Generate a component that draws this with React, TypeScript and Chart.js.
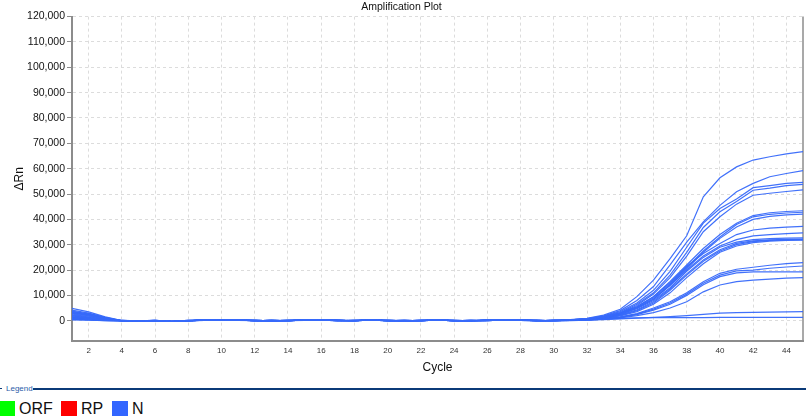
import React, { useEffect, useRef } from "react";
import { Chart, registerables } from "chart.js";

Chart.register(...registerables);

const FONT = '"Liberation Sans", Arial, sans-serif';

const cycles = [
  1, 2, 3, 4, 5, 6, 7, 8, 9, 10, 11, 12, 13, 14, 15, 16, 17, 18, 19, 20, 21, 22, 23,
  24, 25, 26, 27, 28, 29, 30, 31, 32, 33, 34, 35, 36, 37, 38, 39, 40, 41, 42, 43, 44, 45,
];

const xTickValues = [2, 4, 6, 8, 10, 12, 14, 16, 18, 20, 22, 24, 26, 28, 30, 32, 34, 36, 38, 40, 42, 44];
const yTickValues = [0, 10000, 20000, 30000, 40000, 50000, 60000, 70000, 80000, 90000, 100000, 110000, 120000];

const well01 = [
  1500, 1000, 400, 0, -100, 0, -300, 0, 200, 100,
  300, 0, 0, 0, 200, 300, 100, 0, 300, 0,
  0, 0, 300, 0, 0, 100, 300, 200, 0, 100,
  400, 900, 2200, 4500, 9500, 16000, 24500, 33500, 48900, 56400,
  60700, 63400, 64700, 65800, 66700,
];
const well02 = [
  4900, 3500, 1500, 100, 0, -100, -200, 100, 300, 200,
  200, 100, 0, 100, 300, 200, 0, 100, 200, 0,
  100, 0, 200, 100, 0, 200, 200, 300, 100, 0,
  300, 800, 1900, 4000, 8000, 13500, 22000, 31000, 39000, 45500,
  50900, 54200, 56800, 58100, 59200,
];
const well03 = [
  3500, 2800, 1200, 0, -200, 0, -300, -100, 200, 300,
  100, 0, 100, 0, 300, 300, 0, 0, 200, 100,
  0, 100, 200, 0, 100, 0, 300, 100, 0, 200,
  300, 700, 1700, 3600, 7000, 12000, 19500, 29000, 38500, 44300,
  48000, 52500, 53300, 54200, 54600,
];
const well04 = [
  2200, 1800, 700, 100, 0, 0, -200, 0, 300, 100,
  200, 100, 0, 0, 200, 400, 100, 0, 300, 0,
  0, 0, 400, 100, 0, 100, 200, 200, 0, 0,
  200, 600, 1500, 3200, 6500, 11000, 18000, 27000, 36800, 43000,
  47000, 51500, 52300, 53300, 53800,
];
const well05 = [
  900, 600, 200, 0, -100, 100, -300, 0, 100, 200,
  300, 0, 100, 0, 100, 300, 200, 0, 200, 100,
  0, 0, 200, 0, 100, 100, 300, 100, 100, 0,
  200, 600, 1400, 3000, 6000, 10500, 17000, 25500, 35100, 41000,
  46000, 49500, 50300, 51000, 51600,
];
const well06 = [
  3000, 2500, 1000, 0, 0, 0, -200, 0, 200, 200,
  300, 100, 0, 0, 300, 200, 0, 100, 300, 0,
  0, 100, 300, 0, 0, 200, 200, 300, 0, 100,
  300, 700, 1500, 3000, 5500, 9500, 15500, 22000, 28500, 34000,
  38500, 41500, 42600, 43100, 43400,
];
const well07 = [
  300, 200, 0, -100, -100, 0, -300, 0, 200, 100,
  200, 0, 0, 100, 200, 300, 100, 0, 200, 0,
  100, 0, 300, 0, 0, 100, 300, 200, 100, 0,
  200, 600, 1300, 2800, 5200, 9000, 14500, 21000, 27500, 33000,
  38000, 41000, 42000, 42500, 42800,
];
const well08 = [
  2600, 2000, 800, 0, -100, 0, -200, 100, 300, 100,
  300, 0, 100, 0, 200, 200, 100, 0, 300, 100,
  0, 0, 200, 100, 0, 100, 200, 200, 0, 100,
  200, 500, 1200, 2600, 5000, 8500, 14000, 20500, 27000, 32500,
  37000, 40000, 41200, 41800, 42100,
];
const well09 = [
  1200, 900, 300, 0, 0, 100, -300, 0, 200, 200,
  200, 100, 0, 0, 300, 300, 0, 0, 200, 0,
  0, 100, 300, 0, 100, 0, 300, 200, 0, 0,
  300, 700, 1400, 3000, 5500, 9500, 15000, 21500, 26500, 30500,
  34000, 35800, 36500, 36900, 37200,
];
const well10 = [
  4200, 3000, 1300, 100, -100, 0, -200, 0, 200, 100,
  300, 0, 0, 100, 200, 300, 100, 100, 300, 0,
  0, 0, 200, 0, 0, 100, 200, 300, 100, 0,
  200, 600, 1300, 2700, 5000, 8500, 14000, 20000, 25500, 29500,
  32000, 33500, 34000, 34400, 34700,
];
const well11 = [
  600, 500, 100, 0, -100, 0, -300, 0, 100, 100,
  200, 0, 100, 0, 200, 300, 100, 0, 300, 100,
  100, 0, 300, 0, 0, 200, 300, 100, 0, 100,
  200, 500, 1200, 2500, 4700, 8000, 13000, 19500, 25000, 29000,
  31000, 32000, 32400, 32600, 32700,
];
const well12 = [
  1800, 1300, 500, 0, 0, 0, -200, -100, 200, 200,
  300, 100, 0, 0, 300, 200, 0, 0, 200, 0,
  0, 100, 200, 0, 0, 100, 200, 200, 100, 0,
  200, 500, 1100, 2300, 4300, 7500, 12500, 18500, 24000, 28000,
  30500, 31500, 31900, 32100, 32200,
];
const well13 = [
  2900, 2200, 900, 100, -100, 0, -300, 0, 300, 100,
  200, 0, 0, 100, 200, 300, 200, 0, 300, 0,
  0, 0, 300, 100, 0, 0, 300, 200, 0, 100,
  100, 400, 1000, 2100, 4000, 7000, 12000, 18000, 23500, 27500,
  30000, 31200, 31700, 31900, 32000,
];
const well14 = [
  1000, 700, 200, 0, -100, 100, -200, 0, 200, 100,
  300, 0, 100, 0, 300, 300, 0, 100, 200, 100,
  0, 100, 200, 0, 100, 100, 200, 300, 0, 0,
  100, 400, 900, 1900, 3600, 6500, 11000, 17000, 22500, 27000,
  29500, 30800, 31400, 31700, 31800,
];
const well15 = [
  3800, 2600, 1100, 0, 0, 0, -300, 0, 200, 200,
  200, 100, 0, 0, 200, 400, 100, 0, 300, 0,
  100, 0, 300, 0, 0, 200, 300, 100, 0, 0,
  100, 400, 800, 1500, 2800, 5000, 7500, 11000, 15400, 18700,
  20300, 21100, 21900, 22500, 22900,
];
const well16 = [
  500, 300, 0, -100, -100, 0, -200, 0, 300, 100,
  300, 0, 0, 100, 300, 200, 0, 0, 200, 100,
  0, 100, 200, 0, 0, 100, 200, 200, 100, 0,
  100, 300, 700, 1400, 2600, 4600, 7000, 10500, 14800, 18000,
  19700, 20000, 20700, 21200, 21600,
];
const well17 = [
  2000, 1500, 600, 0, -100, 0, -300, 100, 200, 200,
  200, 0, 100, 0, 200, 300, 100, 0, 300, 0,
  0, 0, 300, 100, 0, 200, 300, 100, 0, 100,
  100, 300, 700, 1300, 2400, 4200, 6500, 10000, 14200, 17400,
  18900, 19300, 19300, 19300, 19300,
];
const well18 = [
  1400, 1100, 400, 0, 0, 100, -200, 0, 200, 100,
  300, 100, 0, 0, 200, 300, 0, 100, 200, 0,
  0, 100, 200, 0, 100, 0, 300, 200, 0, 0,
  0, 200, 600, 1100, 2000, 3200, 5000, 7500, 11400, 14100,
  15400, 16000, 16400, 16800, 17000,
];
const well19 = [
  700, 400, 100, 0, -100, 0, -300, 0, 200, 100,
  200, 0, 0, 0, 300, 200, 100, 0, 300, 100,
  0, 0, 200, 0, 0, 100, 300, 200, 100, 0,
  100, 200, 400, 700, 1000, 1300, 1600, 2000, 2500, 3000,
  3200, 3300, 3400, 3500, 3600,
];
const well20 = [
  3300, 2400, 1000, 0, -100, 0, -200, 0, 300, 200,
  200, 0, 100, 100, 200, 300, 100, 0, 200, 0,
  100, 0, 300, 0, 0, 200, 200, 300, 0, 100,
  100, 300, 600, 900, 1100, 1200, 1200, 1200, 1200, 1300,
  1300, 1300, 1300, 1300, 1300,
];

const nWells = [
  well01, well02, well03, well04, well05, well06, well07, well08, well09, well10,
  well11, well12, well13, well14, well15, well16, well17, well18, well19, well20,
];

const legendLabels = ["ORF", "RP", "N"];
const legendColors = ["#00ff00", "#ff0000", "#3366ff"];
const LINE_COLOR = "rgba(55, 105, 250, 0.95)";
const AXIS_COLOR = "#8c8c8c";
const GRID_COLOR = "#dcdcdc";

function formatThousands(v: number): string {
  return String(v).replace(/\B(?=(\d{3})+(?!\d))/g, ",");
}

const rightBorderPlugin = {
  id: "rightBorder",
  beforeDatasetsDraw(chart: any) {
    const { ctx, chartArea } = chart;
    ctx.save();
    ctx.strokeStyle = AXIS_COLOR;
    ctx.lineWidth = 1.5;
    ctx.beginPath();
    ctx.moveTo(chartArea.right, chartArea.top);
    ctx.lineTo(chartArea.right, chartArea.bottom);
    ctx.stroke();
    ctx.restore();
  },
};

export default function App() {
  const canvasRef = useRef<HTMLCanvasElement | null>(null);

  useEffect(() => {
    if (!canvasRef.current) return;
    const datasets = nWells.map((series, i) => ({
      label: "N " + (i + 1),
      data: cycles.map((c, j) => ({ x: c, y: series[j] })),
      borderColor: LINE_COLOR,
      backgroundColor: LINE_COLOR,
      borderWidth: 1.2,
      pointRadius: 0,
      tension: 0,
      fill: false,
    }));

    const chart = new Chart(canvasRef.current, {
      type: "line",
      data: { datasets },
      plugins: [rightBorderPlugin],
      options: {
        animation: false,
        responsive: false,
        maintainAspectRatio: false,
        layout: { padding: { top: 0, right: 3, bottom: 0, left: 0 } },
        plugins: {
          legend: { display: false },
          tooltip: { enabled: false },
          title: {
            display: true,
            text: "Amplification Plot",
            color: "#111",
            font: { family: FONT, size: 10.5, weight: "normal" },
            padding: { top: 1, bottom: 3 },
          },
        },
        scales: {
          x: {
            type: "linear",
            min: 1,
            max: 45,
            afterBuildTicks: (scale: any) => {
              scale.ticks = xTickValues.map((v) => ({ value: v }));
            },
            afterFit: (scale: any) => {
              scale.height = 39;
            },
            grid: { color: GRID_COLOR, lineWidth: 1, drawTicks: false },
            border: { display: true, color: AXIS_COLOR, width: 2, dash: [3, 3] },
            ticks: {
              autoSkip: false,
              maxRotation: 0,
              padding: 5,
              color: "#333",
              font: { family: FONT, size: 8 },
            },
            title: {
              display: true,
              text: "Cycle",
              color: "#111",
              font: { family: FONT, size: 12 },
              padding: { top: 0, bottom: 5 },
            },
          },
          y: {
            type: "linear",
            min: -8000,
            max: 120000,
            afterBuildTicks: (scale: any) => {
              scale.ticks = yTickValues.map((v) => ({ value: v }));
            },
            afterFit: (scale: any) => {
              scale.width = 72;
            },
            grid: {
              color: GRID_COLOR,
              lineWidth: 1,
              drawTicks: true,
              tickLength: 5,
              tickColor: AXIS_COLOR,
            },
            border: { display: true, color: AXIS_COLOR, width: 2, dash: [3, 3] },
            ticks: {
              autoSkip: false,
              padding: 2,
              color: "#111",
              font: { family: FONT, size: 10.5 },
              callback: (v: any) => formatThousands(Number(v)),
            },
            title: {
              display: true,
              text: "ΔRn",
              color: "#111",
              font: { family: FONT, size: 12 },
              padding: { top: 12, bottom: 0 },
            },
          },
        },
      } as any,
    });
    return () => chart.destroy();
  }, []);

  const textStyle: React.CSSProperties = {
    position: "absolute",
    fontFamily: FONT,
    fontSize: 16,
    lineHeight: "16px",
    color: "#111",
    top: 401,
  };

  return (
    <div style={{ position: "absolute", left: 0, top: 0, width: 806, height: 420, background: "#fff", overflow: "hidden" }}>
      <canvas ref={canvasRef} width={806} height={380} style={{ position: "absolute", left: 0, top: 0, width: 806, height: 380 }} />
      <div style={{ position: "absolute", left: 0, top: 388, width: 2, height: 1, background: "#0b3a78" }} />
      <div
        style={{
          position: "absolute",
          left: 6,
          top: 384,
          fontFamily: FONT,
          fontSize: 8,
          lineHeight: "9px",
          color: "#2a5ca8",
        }}
      >
        Legend
      </div>
      <div style={{ position: "absolute", left: 33, top: 388, width: 773, height: 1.5, background: "#0b3a78" }} />
      <div style={{ position: "absolute", left: 0, top: 401, width: 15, height: 15, background: legendColors[0] }} />
      <div style={{ ...textStyle, left: 19 }}>{legendLabels[0]}</div>
      <div style={{ position: "absolute", left: 61, top: 401, width: 16, height: 15, background: legendColors[1] }} />
      <div style={{ ...textStyle, left: 81 }}>{legendLabels[1]}</div>
      <div style={{ position: "absolute", left: 112, top: 401, width: 16, height: 15, background: legendColors[2] }} />
      <div style={{ ...textStyle, left: 132 }}>{legendLabels[2]}</div>
    </div>
  );
}
